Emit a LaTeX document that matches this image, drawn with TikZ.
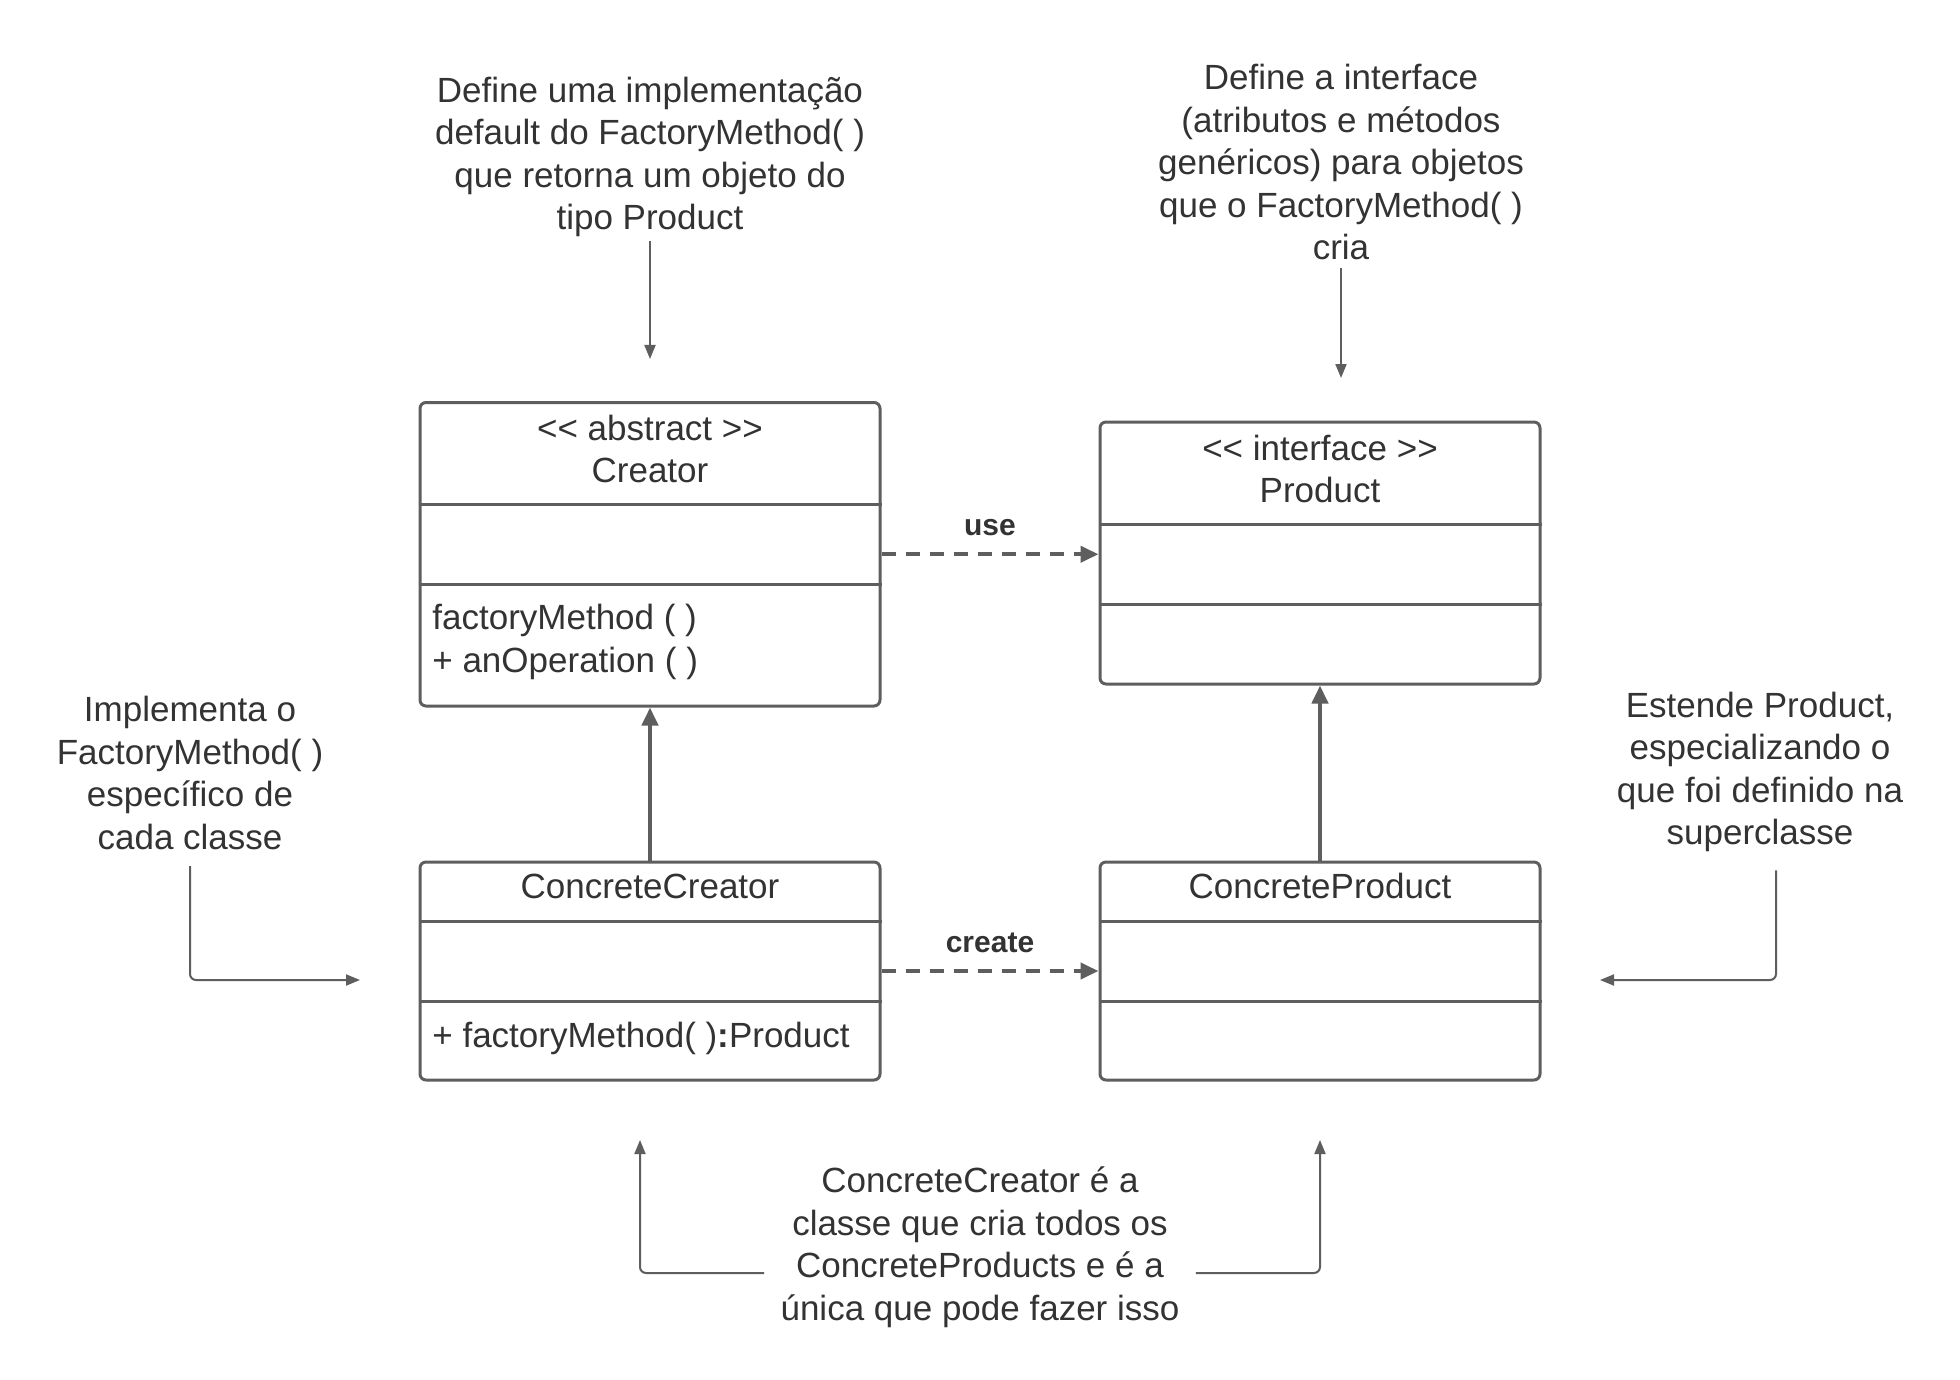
\documentclass[tikz,border=0pt]{standalone}
\usepackage{fontspec}
\setmainfont{Liberation Sans}
\usetikzlibrary{arrows.meta}
\definecolor{ln}{HTML}{5E5E5E}
\definecolor{tx}{HTML}{333333}
\begin{document}
\begin{tikzpicture}[x=0.5pt,y=-0.5pt,
  every node/.style={text=tx, inner sep=2pt, font=\fontsize{17.5}{21.25}\selectfont},
  cls/.style={draw=ln, line width=1.5pt, rounded corners=3pt, fill=white, inner sep=0pt},
  sepline/.style={draw=ln, line width=1.5pt},
  note/.style={align=center},
  ann/.style={draw=ln, line width=1pt, -{Triangle[length=7pt,width=5.5pt]}, rounded corners=3pt},
  inh/.style={draw=ln, line width=2pt, -{Triangle[length=9pt,width=8pt]}},
  dep/.style={draw=ln, line width=2pt, dash pattern=on 7pt off 5pt, -{Triangle[length=9pt,width=8pt]}},
  lbl/.style={font=\bfseries\fontsize{15}{18}\selectfont}
]
\useasboundingbox[fill=white] (0,0) rectangle (1960,1380);

% class boxes
\node[cls, minimum width=230pt, minimum height=151.75pt] (creator) at (650,554.25) {};
\node[cls, minimum width=220pt, minimum height=131pt] (product) at (1320,553) {};
\node[cls, minimum width=230pt, minimum height=109pt] (cc) at (650,971) {};
\node[cls, minimum width=220pt, minimum height=109pt] (cp) at (1320,971) {};

% compartments
\draw[sepline] (creator.west |- 0,504) -- (creator.east |- 0,504);
\draw[sepline] (creator.west |- 0,584) -- (creator.east |- 0,584);
\draw[sepline] (product.west |- 0,524) -- (product.east |- 0,524);
\draw[sepline] (product.west |- 0,604) -- (product.east |- 0,604);
\draw[sepline] (cc.west |- 0,921) -- (cc.east |- 0,921);
\draw[sepline] (cc.west |- 0,1001) -- (cc.east |- 0,1001);
\draw[sepline] (cp.west |- 0,921) -- (cp.east |- 0,921);
\draw[sepline] (cp.west |- 0,1001) -- (cp.east |- 0,1001);

% box texts
\node[note] (creatorT) at (650,449) {<\kern0pt< abstract >\kern0pt>\\Creator};
\node[anchor=west, align=left] (creatorM) at (428,642) {factoryMethod ( )\\+ anOperation ( )};
\node[note] (productT) at (1320,469) {<\kern0pt< interface >\kern0pt>\\Product};
\node (ccT) at (650,886) {ConcreteCreator};
\node[anchor=west] (ccM) at (428,1038) {+ factoryMethod( )\textbf{:}Product};
\node (cpT) at (1320,886) {ConcreteProduct};

% relations
\draw[inh] (cc.north) -- (creator.south);
\draw[inh] (cp.north) -- (product.south);
\draw[dep] (creator.east) -- (creator.east -| product.west) node[lbl, midway, above=6pt] (use) {use};
\draw[dep] (cc.east) -- (cc.east -| cp.west) node[lbl, midway, above=6pt] (create) {create};

% notes
\node[note] (n1) at (650,157) {Define uma implementação\\default do FactoryMethod( )\\que retorna um objeto do\\tipo Product};
\node[note] (n2) at (1341,162) {Define a interface\\(atributos e métodos\\genéricos) para objetos\\que o FactoryMethod( )\\cria};
\node[note] (n3) at (190,773) {Implementa o\\FactoryMethod( )\\específico de\\cada classe};
\node[note] (n4) at (1760,772) {Estende Product,\\especializando o\\que foi definido na\\superclasse};
\node[note] (n5) at (980,1247) {ConcreteCreator é a\\classe que cria todos os\\ConcreteProducts e é a\\única que pode fazer isso};

\coordinate (t1) at (650,359);
\coordinate (t2) at (1341,378);
\coordinate (t3) at (360,980);
\coordinate (t4) at (1600,980);
\coordinate (t5a) at (640,1140);
\coordinate (t5b) at (1320,1140);

\draw[ann] (n1.south) -- (t1);
\draw[ann, shorten <=2pt] (n2.south) -- (t2);
\draw[ann, shorten <=6pt] (n3.south) |- (t3);
\draw[ann, shorten <=7pt] ([xshift=8pt]n4.south) |- (t4);
\draw[ann, shorten <=6pt] ([yshift=-13pt]n5.west) -| (t5a);
\draw[ann, shorten <=6pt] ([yshift=-13pt]n5.east) -| (t5b);
\end{tikzpicture}
\end{document}
